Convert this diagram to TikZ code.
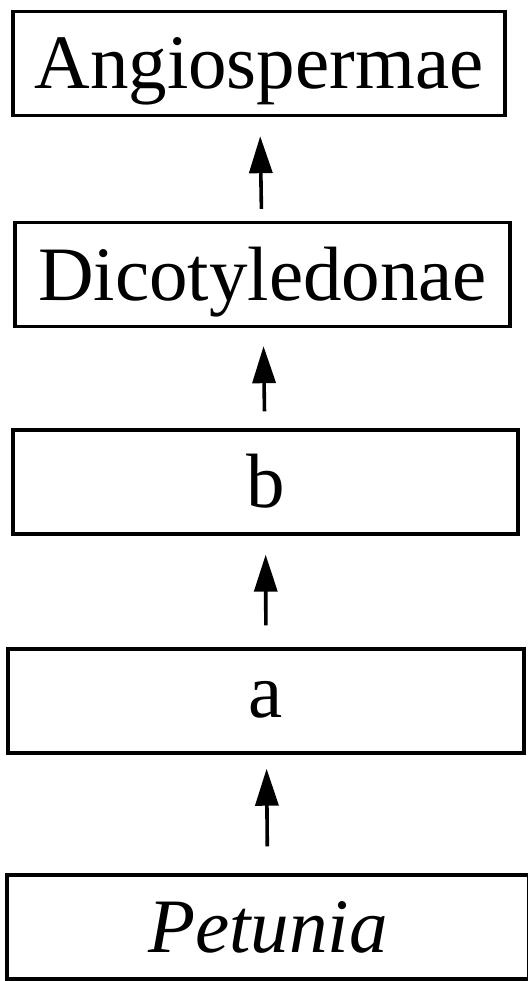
\documentclass[tikz,border=0pt]{standalone}
\usepackage{fontspec}
\setmainfont{Liberation Serif}
\usetikzlibrary{arrows.meta}

\tikzset{
  rank/.style={draw, line width=3.4pt, inner sep=0pt, text height=51pt, text depth=0pt,
    font=\fontsize{77}{80}\selectfont, minimum height=104pt},
  up/.style={line width=3.6pt, -{Triangle[length=37pt,width=23pt]}}
}

\begin{document}
\begin{tikzpicture}[x=1pt,y=-1pt]
\useasboundingbox (0,0) rectangle (527,981);

% ranks
\node[rank, minimum width=492pt] (angio) at (259,63.5) {Angiospermae};
\node[rank, minimum width=495pt] (dicot) at (262.5,274.5) {Dicotyledonae};
\node[rank, minimum width=505pt] (b) at (265.5,482) {b};
\node[rank, minimum width=516pt, text height=32pt] (a) at (266,701) {a};
\node[rank, minimum width=522pt] (petunia) at (268,927) {\itshape Petunia};

% arrows
\draw[up, shorten <=12pt, shorten >=19pt] (dicot) -- (angio);
\draw[up, shorten <=17pt, shorten >=18pt] (b) -- (dicot);
\draw[up, shorten <=22pt, shorten >=19pt] (a) -- (b);
\draw[up, shorten <=27pt, shorten >=14pt] (petunia) -- (a);
\end{tikzpicture}
\end{document}
